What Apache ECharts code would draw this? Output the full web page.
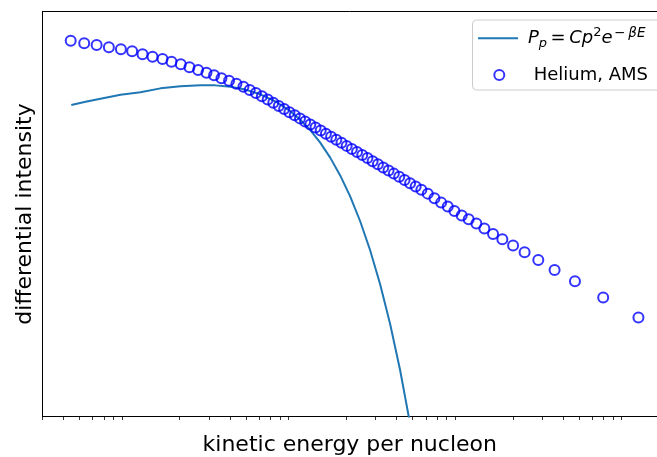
<!DOCTYPE html>
<html>
<head>
<meta charset="utf-8">
<script src="https://cdn.jsdelivr.net/npm/echarts@6/dist/echarts.min.js"></script>
<style>
html,body{margin:0;padding:0;background:#ffffff;}
#c{width:657px;height:457px;}
</style>
</head>
<body>
<div id="c"></div>
<script>
// Helium (AMS) data points: kinetic energy per nucleon and log-scale intensity (arbitrary units)
const energy = [0.443, 0.534, 0.634, 0.751, 0.887, 1.036, 1.196, 1.373, 1.577, 1.785,
  2.030, 2.288, 2.578, 2.894, 3.214, 3.561, 3.954, 4.380, 4.824, 5.262,
  5.731, 6.227, 6.745, 7.287, 7.863, 8.471, 9.114, 9.808, 10.54, 11.32,
  12.16, 13.07, 14.04, 15.09, 16.21, 17.42, 18.71, 20.10, 21.60, 23.20,
  24.93, 26.79, 28.78, 30.96, 33.33, 35.86, 38.59, 41.57, 44.77, 48.30,
  52.19, 56.47, 61.68, 67.65, 74.22, 81.31, 89.17, 98.61, 108.6, 120.8,
  134.9, 152.1, 173.0, 200.6, 235.3, 284.3, 356.1, 471.9, 697.2, 1135];
const intensity = [9.279, 9.215, 9.173, 9.116, 9.067, 9.018, 8.944, 8.885, 8.828, 8.761,
  8.697, 8.623, 8.556, 8.490, 8.425, 8.351, 8.292, 8.218, 8.144, 8.063,
  7.985, 7.906, 7.827, 7.749, 7.669, 7.590, 7.513, 7.436, 7.361, 7.285,
  7.210, 7.135, 7.059, 6.984, 6.908, 6.833, 6.757, 6.682, 6.606, 6.531,
  6.455, 6.380, 6.305, 6.228, 6.151, 6.074, 5.997, 5.919, 5.840, 5.760,
  5.679, 5.596, 5.503, 5.390, 5.281, 5.183, 5.076, 4.961, 4.872, 4.763,
  4.640, 4.509, 4.378, 4.220, 4.057, 3.867, 3.620, 3.342, 2.937, 2.443];

// Model curve P_p = C p^2 exp(-beta E)
const modelEnergy = [0.4466, 0.544, 0.669, 0.882, 1.162, 1.532, 2.020, 2.662, 3.273, 4.026,
  4.954, 6.093, 7.494, 9.218, 10.58, 12.15, 13.95, 16.01, 18.38, 21.10,
  24.23, 27.81, 31.93, 36.66, 42.07, 48.31, 51.75];
const modelIntensity = [7.693, 7.770, 7.846, 7.942, 8.008, 8.102, 8.156, 8.182, 8.176, 8.143,
  8.072, 7.956, 7.783, 7.539, 7.328, 7.071, 6.761, 6.392, 5.953, 5.434,
  4.821, 4.104, 3.265, 2.284, 1.147, -0.180, -0.921];

// x-axis (log) minor tick positions
const xTicks = [0.3, 0.4, 0.5, 0.6, 0.7, 0.8, 0.9,
  2, 3, 4, 5, 6, 7, 8, 9,
  20, 30, 40, 50, 60, 70, 80, 90,
  200, 300, 400, 500, 600, 700, 800, 900];
const xRange = [0.3, 1467];
const yRange = [0, 10];

const xLabel = 'kinetic energy per nucleon';
const yLabel = 'differential intensity';
const modelName = 'Pp = Cp^2 e^(-βE)';
const dataName = 'Helium, AMS';

const FONT = 'DejaVu Sans';
const chart = echarts.init(document.getElementById('c'), null, {renderer: 'canvas'});

const spine = {show: true, lineStyle: {color: '#000000', width: 1}};

const option = {
  animation: false,
  backgroundColor: '#ffffff',
  grid: {left: 42.5, right: 0, top: 11.5, bottom: 40.5, show: false,
    containLabel: false, outerBoundsMode: 'none'},
  xAxis: [
    {
      type: 'log', logBase: 10, min: xRange[0], max: xRange[1],
      axisLine: spine,
      axisTick: {show: true, customValues: xTicks, length: 3.5, lineStyle: {color: '#000000', width: 0.8}},
      axisLabel: {show: false},
      minorTick: {show: false},
      splitLine: {show: false},
      name: xLabel, nameLocation: 'middle', nameGap: 17.5,
      nameTextStyle: {fontFamily: FONT, fontSize: 22, color: '#000000'}
    },
    {
      type: 'log', logBase: 10, min: xRange[0], max: xRange[1], position: 'top',
      axisLine: spine,
      axisTick: {show: false}, axisLabel: {show: false},
      minorTick: {show: false}, splitLine: {show: false}
    }
  ],
  yAxis: {
    type: 'value', min: yRange[0], max: yRange[1],
    axisLine: spine,
    axisTick: {show: false},
    axisLabel: {show: false},
    splitLine: {show: false},
    name: yLabel, nameLocation: 'middle', nameGap: 6.5, nameRotate: 90,
    nameTextStyle: {fontFamily: FONT, fontSize: 22, color: '#000000'}
  },
  legend: [
    {
      data: [{name: modelName, icon: 'rect', itemStyle: {color: '#1f77b4'}}],
      left: 472.5, top: 20,
      padding: [6.3, 40, 39.7, 5.5],
      itemWidth: 40, itemHeight: 2,
      selectedMode: false,
      backgroundColor: 'rgba(255,255,255,0.8)',
      borderColor: '#cccccc', borderWidth: 1, borderRadius: 4,
      formatter: function () {
        return '{i|P}{sub|p}{n|=}{i|Cp}{sup|2}{i|e}{supm|−}{supi|βE}';
      },
      textStyle: {
        fontFamily: FONT, fontSize: 18, color: '#000000', lineHeight: 24,
        padding: [0, 0, 0, 5],
        rich: {
          i: {fontFamily: FONT, fontStyle: 'italic', fontSize: 18, lineHeight: 24, color: '#000000'},
          n: {fontFamily: FONT, fontSize: 18, lineHeight: 24, color: '#000000', padding: [0, 3.5, 0, 3.5]},
          sub: {fontFamily: FONT, fontStyle: 'italic', fontSize: 13, lineHeight: 13, verticalAlign: 'bottom', color: '#000000'},
          sup: {fontFamily: FONT, fontSize: 13, lineHeight: 13, verticalAlign: 'top', color: '#000000'},
          supm: {fontFamily: FONT, fontSize: 13.5, lineHeight: 13, verticalAlign: 'top', color: '#000000', padding: [0, 3, 0, 1.5]},
          supi: {fontFamily: FONT, fontStyle: 'italic', fontSize: 13.5, lineHeight: 13, verticalAlign: 'top', color: '#000000'}
        }
      }
    },
    {
      data: [{name: dataName, icon: 'circle',
        itemStyle: {color: 'rgba(0,0,0,0)', borderColor: '#0000ff', borderWidth: 2}}],
      left: 493.3, top: 63, padding: 0,
      itemWidth: 10, itemHeight: 10,
      selectedMode: false,
      textStyle: {fontFamily: FONT, fontSize: 18, color: '#000000', lineHeight: 24, padding: [0, 0, 0, 24.4]}
    }
  ],
  series: [
    {
      name: modelName, type: 'line', xAxisIndex: 0,
      data: modelEnergy.map(function (e, i) { return [e, modelIntensity[i]]; }),
      showSymbol: false, symbol: 'none', clip: true,
      color: '#1f77b4',
      lineStyle: {color: '#1f77b4', width: 2},
      itemStyle: {color: '#1f77b4'},
      z: 2
    },
    {
      name: dataName, type: 'scatter', xAxisIndex: 0,
      data: energy.map(function (e, i) { return [e, intensity[i]]; }),
      symbol: 'circle', symbolSize: 10,
      itemStyle: {color: 'rgba(0,0,0,0)', borderColor: '#0000ff', borderWidth: 2},
      z: 3
    }
  ]
};
chart.setOption(option);
</script>
</body>
</html>
